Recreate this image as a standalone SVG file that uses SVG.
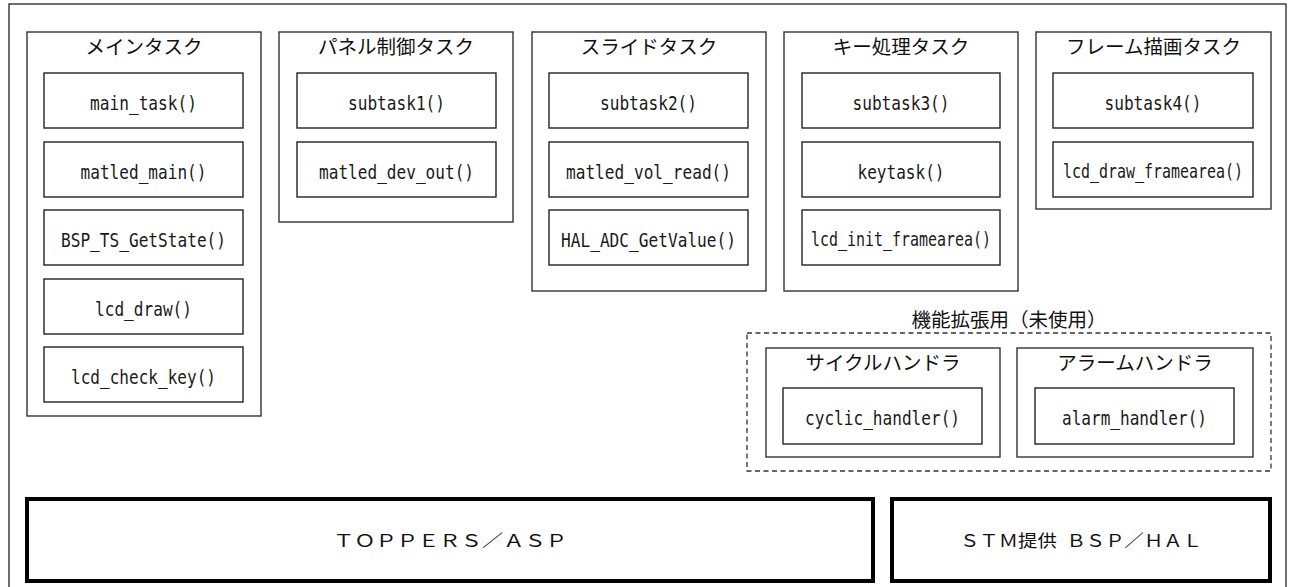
<svg xmlns="http://www.w3.org/2000/svg" width="1292" height="587" viewBox="0 0 1292 587">
  <style>
    .frame { fill: #fff; stroke: #222; stroke-width: 1.3; }
    .task { fill: #fff; stroke: #333; stroke-width: 1.4; }
    .fn { fill: #fff; stroke: #222; stroke-width: 1.4; }
    .ext { fill: none; stroke: #333; stroke-width: 1.3; stroke-dasharray: 5 3.5; }
    .base { fill: #fff; stroke: #000; stroke-width: 4; }
    .title { font-family: "Noto Sans CJK JP", sans-serif; font-size: 19.5px; fill: #111; text-anchor: middle; }
    .code { font-family: "DejaVu Sans Mono", monospace; font-size: 20px; fill: #1a1a1a; text-anchor: middle; }
    .small { font-size: 19px; }
    .wide { font-family: "Noto Sans CJK JP", sans-serif; font-size: 17px; fill: #111; text-anchor: middle; }
  </style>

  <!-- outer frame -->
  <rect class="frame" x="9" y="4" width="1277" height="590"/>

  <!-- main task -->
  <g id="main-task">
    <rect class="task" x="27" y="32" width="234" height="384"/>
    <text class="title" x="144" y="54">メインタスク</text>
    <rect class="fn" x="44" y="73" width="199" height="55"/>
    <text class="code" x="143.5" y="110" textLength="107" lengthAdjust="spacingAndGlyphs">main_task()</text>
    <rect class="fn" x="44" y="142" width="199" height="55"/>
    <text class="code" x="143.5" y="179" textLength="126" lengthAdjust="spacingAndGlyphs">matled_main()</text>
    <rect class="fn" x="44" y="210" width="199" height="55"/>
    <text class="code" x="143.5" y="247" textLength="165" lengthAdjust="spacingAndGlyphs">BSP_TS_GetState()</text>
    <rect class="fn" x="44" y="279" width="199" height="55"/>
    <text class="code" x="143.5" y="316" textLength="97" lengthAdjust="spacingAndGlyphs">lcd_draw()</text>
    <rect class="fn" x="44" y="347" width="199" height="55"/>
    <text class="code" x="143.5" y="384" textLength="145" lengthAdjust="spacingAndGlyphs">lcd_check_key()</text>
  </g>

  <!-- panel control task -->
  <g id="panel-task">
    <rect class="task" x="279" y="32" width="234" height="190"/>
    <text class="title" x="396" y="54">パネル制御タスク</text>
    <rect class="fn" x="297" y="73" width="199" height="55"/>
    <text class="code" x="396.5" y="110" textLength="97" lengthAdjust="spacingAndGlyphs">subtask1()</text>
    <rect class="fn" x="297" y="142" width="199" height="55"/>
    <text class="code" x="396.5" y="179" textLength="155" lengthAdjust="spacingAndGlyphs">matled_dev_out()</text>
  </g>

  <!-- slide task -->
  <g id="slide-task">
    <rect class="task" x="532" y="32" width="234" height="259"/>
    <text class="title" x="649" y="54">スライドタスク</text>
    <rect class="fn" x="549" y="73" width="199" height="55"/>
    <text class="code" x="648.5" y="110" textLength="97" lengthAdjust="spacingAndGlyphs">subtask2()</text>
    <rect class="fn" x="549" y="142" width="199" height="55"/>
    <text class="code" x="648.5" y="179" textLength="165" lengthAdjust="spacingAndGlyphs">matled_vol_read()</text>
    <rect class="fn" x="549" y="210" width="199" height="55"/>
    <text class="code" x="648.5" y="247" textLength="175" lengthAdjust="spacingAndGlyphs">HAL_ADC_GetValue()</text>
  </g>

  <!-- key processing task -->
  <g id="key-task">
    <rect class="task" x="784" y="32" width="234" height="259"/>
    <text class="title" x="901" y="54">キー処理タスク</text>
    <rect class="fn" x="802" y="73" width="198" height="55"/>
    <text class="code" x="901" y="110" textLength="97" lengthAdjust="spacingAndGlyphs">subtask3()</text>
    <rect class="fn" x="802" y="142" width="198" height="55"/>
    <text class="code" x="901" y="179" textLength="87" lengthAdjust="spacingAndGlyphs">keytask()</text>
    <rect class="fn" x="802" y="210" width="198" height="55"/>
    <text class="code small" x="901" y="246" textLength="180" lengthAdjust="spacingAndGlyphs">lcd_init_framearea()</text>
  </g>

  <!-- frame drawing task -->
  <g id="frame-task">
    <rect class="task" x="1036" y="32" width="235" height="177"/>
    <text class="title" x="1153.5" y="54">フレーム描画タスク</text>
    <rect class="fn" x="1053" y="73" width="200" height="55"/>
    <text class="code" x="1153" y="110" textLength="97" lengthAdjust="spacingAndGlyphs">subtask4()</text>
    <rect class="fn" x="1053" y="142" width="200" height="55"/>
    <text class="code small" x="1153" y="178" textLength="180" lengthAdjust="spacingAndGlyphs">lcd_draw_framearea()</text>
  </g>

  <!-- extension area (unused) -->
  <g id="extension">
    <text class="title" x="1009" y="327">機能拡張用（未使用）</text>
    <rect class="ext" x="747" y="333" width="524" height="138"/>
  </g>

  <g id="cyclic-handler">
    <rect class="task" x="766" y="348" width="234" height="109"/>
    <text class="title" x="883" y="370">サイクルハンドラ</text>
    <rect class="fn" x="783" y="388" width="199" height="56"/>
    <text class="code" x="882.5" y="425" textLength="155" lengthAdjust="spacingAndGlyphs">cyclic_handler()</text>
  </g>

  <g id="alarm-handler">
    <rect class="task" x="1017" y="348" width="236" height="109"/>
    <text class="title" x="1135" y="370">アラームハンドラ</text>
    <rect class="fn" x="1035" y="388" width="199" height="56"/>
    <text class="code" x="1134.5" y="425" textLength="145" lengthAdjust="spacingAndGlyphs">alarm_handler()</text>
  </g>

  <!-- platform layers -->
  <g id="toppers-asp">
    <rect class="base" x="27" y="499" width="846" height="82"/>
    <text class="wide" x="450" y="547" textLength="234" lengthAdjust="spacingAndGlyphs">ＴＯＰＰＥＲＳ／ＡＳＰ</text>
  </g>

  <g id="stm-bsp-hal">
    <rect class="base" x="892" y="499" width="378" height="82"/>
    <text class="wide" x="1081" y="547" textLength="242" lengthAdjust="spacingAndGlyphs">ＳＴＭ提供&#x2002;ＢＳＰ／ＨＡＬ</text>
  </g>

  <g id="connectors"/>
</svg>
